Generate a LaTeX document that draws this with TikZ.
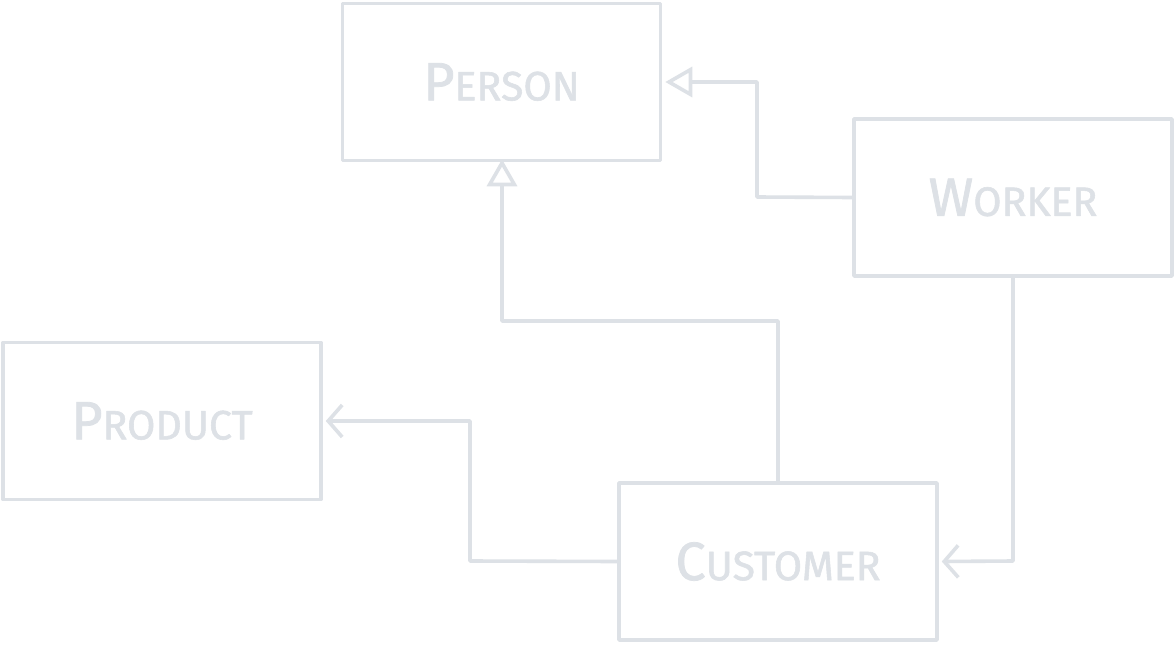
\documentclass[tikz,border=0pt]{standalone}
\usepackage{fontspec}
\setmainfont{Fira Sans}
\newfontfamily\lbl{Fira Sans}[FakeBold=1.3]
\usetikzlibrary{arrows.meta}
\definecolor{sk}{HTML}{DDE1E6}
\newcommand{\fsc}[2]{{\lbl\fontsize{54}{54}\selectfont #1}{\lbl\fontsize{41}{41}\selectfont #2}}
\begin{document}
\begin{tikzpicture}[x=1pt,y=-1pt,
  box/.style={draw=sk,line width=3.6pt,minimum width=318pt,minimum height=157pt,inner sep=0pt,text=sk,line join=round},
  conn/.style={draw=sk,line width=3.6pt,line join=round,line cap=round},
  inh/.style={conn,-{Triangle[open,length=27pt,width=30pt,line width=3.6pt]}},
  assoc/.style={conn,-{Straight Barb[length=14pt,width=32pt,line width=3.6pt]}}]
\useasboundingbox (0,0) rectangle (1176,648);
\fill[white] (0,0) rectangle (1176,648);
\node[box] (person) at (501.5,82) {\fsc{P}{ERSON}};
\node[box] (worker) at (1013,197.5) {\fsc{W}{ORKER}};
\node[box] (product) at (162,421) {\fsc{P}{RODUCT}};
\node[box] (customer) at (778,561.5) {\fsc{C}{USTOMER}};
\coordinate (w1) at (757,197);
\coordinate (w2) at (757,82);
\draw[inh] (worker.west) -- (w1) -- (w2) -- ([xshift=3pt]person.east);
\coordinate (c1) at (778,321);
\coordinate (c2) at (502,321);
\draw[inh] (customer.north) -- (c1) -- (c2) -- ([yshift=3pt]person.south -| c2);
\coordinate (p1) at (470,561);
\coordinate (p2) at (470,421);
\draw[assoc] (customer.west) -- (p1) -- (p2) -- ([xshift=3pt]product.east);
\coordinate (k1) at (1013,561);
\draw[assoc] (worker.south) -- (k1) -- ([xshift=3pt]customer.east);
\end{tikzpicture}
\end{document}
